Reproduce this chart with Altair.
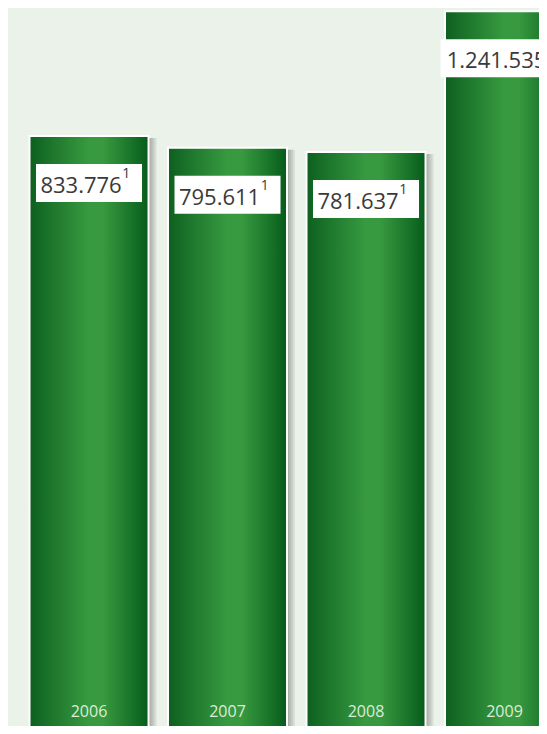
import altair as alt
import pandas as pd

# ---- data ----
years = [2006, 2007, 2008, 2009]
values = [833776, 795611, 781637, 1241535]
labels = ["833.776", "795.611", "781.637", "1.241.535"]
year_labels = ["2006", "2007", "2008", "2009"]
footnotes = ["1", "1", "1", "1"]

df = pd.DataFrame({
    "year": years,
    "value": values,
    "label": labels,
    "ylab": year_labels,
    "sup": footnotes,
})

W, H = 531, 718
XMIN, XMAX = 2005.415, 2009.249
YMIN, YMAX = -1091772, 1251780
PX = W / (XMAX - XMIN)          # pixels per year
HALF = 59.5 / PX                # half bar width in data units

xs = alt.Scale(domain=[XMIN, XMAX], nice=False, zero=False, padding=0)
ys = alt.Scale(domain=[YMIN, YMAX], nice=False, zero=False, padding=0)

FONT = "Open Sans"

base = alt.Chart(df).transform_calculate(
    x0=f"datum.year - {HALF}",
    x1=f"datum.year + {HALF}",
    boxw="11 * length(datum.label) + 29",
    xsup=f"datum.year + (5.9 * length(datum.label) - 4) / {PX}",
)

X0 = alt.X("x0:Q", scale=xs, axis=None)
X1 = alt.X2("x1:Q")
Y = alt.Y("value:Q", scale=ys, axis=None)

shadows = [
    base.mark_bar(color="black", opacity=0.08, xOffset=k, x2Offset=k, yOffset=2, clip=True)
    .encode(x=X0, x2=X1, y=Y, y2=alt.value(H + 30))
    for k in (2, 4, 6, 8)
]

grad = alt.LinearGradient(
    gradient="linear",
    x1=0, x2=1, y1=0, y2=0,
    stops=[
        alt.GradientStop(color="#0d5f1f", offset=0),
        alt.GradientStop(color="#1a722a", offset=0.15),
        alt.GradientStop(color="#379a40", offset=0.5),
        alt.GradientStop(color="#38993f", offset=0.62),
        alt.GradientStop(color="#157027", offset=0.88),
        alt.GradientStop(color="#075a1b", offset=1),
    ],
)

bars = base.mark_bar(fill=grad, stroke="white", strokeWidth=2, clip=True).encode(
    x=X0, x2=X1, y=Y, y2=alt.value(H + 30)
)

boxes = base.mark_bar(color="white", yOffset=28, y2Offset=66, clip=True).encode(
    x=alt.X("year:Q", scale=xs, axis=None),
    y=Y,
    y2=alt.Y2("value:Q"),
    size=alt.Size("boxw:Q", scale=None, legend=None),
)

texts = base.mark_text(
    font=FONT, fontSize=22, color="#3a3a3a", align="center",
    baseline="alphabetic", dx=-8, dy=57, clip=True
).encode(
    x=alt.X("year:Q", scale=xs, axis=None), y=Y, text="label:N"
)

sups = base.mark_text(
    font=FONT, fontSize=14, color="#3a3a3a", align="center",
    baseline="alphabetic", dy=42, clip=True
).encode(
    x=alt.X("xsup:Q", scale=xs, axis=None), y=Y, text="sup:N"
)

yearlab = base.mark_text(
    font=FONT, fontSize=16, color="#dcecd9", align="center",
    baseline="alphabetic", clip=True
).encode(
    x=alt.X("year:Q", scale=xs, axis=None), y=alt.value(709), text="ylab:N"
)

chart = alt.layer(*shadows, bars, boxes, texts, sups, yearlab).properties(
    width=W,
    height=H,
    padding=0,
    background="#ebf2ea",
    autosize=alt.AutoSizeParams(type="none"),
).configure_view(stroke=None)

chart.save("out.html", embed_options={"renderer": "svg", "actions": False})
